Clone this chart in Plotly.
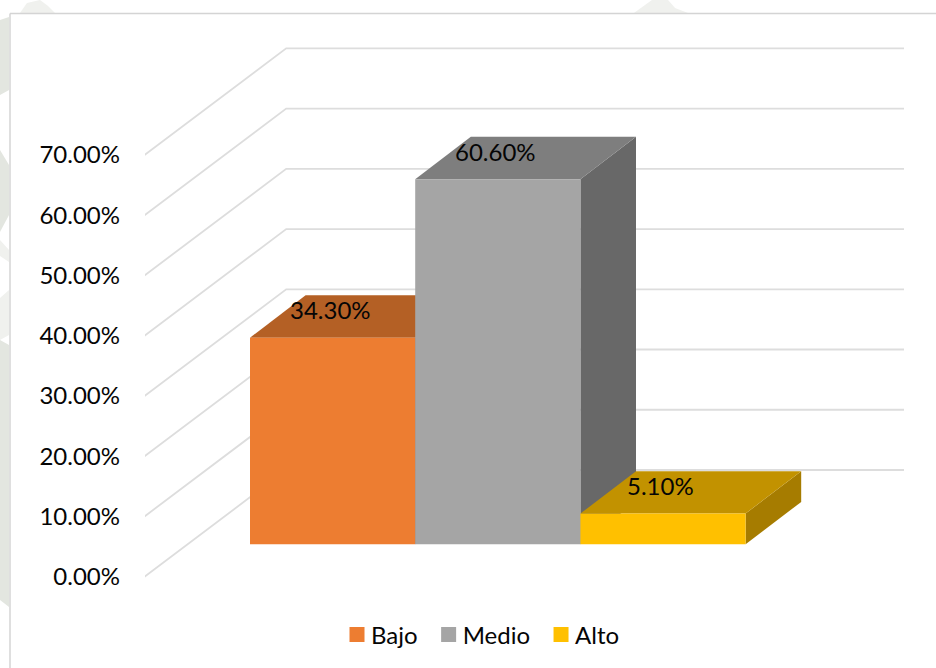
import plotly.graph_objects as go

categories = ["Bajo", "Medio", "Alto"]
values = [34.3, 60.6, 5.1]
labels = ["34.30%", "60.60%", "5.10%"]
front_colors = ["#ED7D31", "#A5A5A5", "#FFC000"]
top_colors = ["#B46025", "#7E7E7E", "#C29200"]
side_colors = ["#8F4C1E", "#686868", "#A67C00"]
tick_values = [0, 10, 20, 30, 40, 50, 60, 70]
tick_labels = ["0.00%", "10.00%", "20.00%", "30.00%", "40.00%", "50.00%", "60.00%", "70.00%"]

W, H = 936, 668
PX_PER_UNIT_Y = 6.024
PX_PER_CAT = 165.2
PLOT_L, PLOT_R, PLOT_T, PLOT_B = 145, 905, 20, 610
ZERO_PY = 576.7
BAR0_PX = 250


def to_x(px):
    return (px - BAR0_PX) / PX_PER_CAT


def paper_x(px):
    return (px - PLOT_L) / (PLOT_R - PLOT_L)


def paper_y(py):
    return (PLOT_B - py) / (PLOT_B - PLOT_T)


def blob(points, color):
    xs = [paper_x(p[0]) for p in points]
    ys = [paper_y(p[1]) for p in points]
    path = "M " + " L ".join(f"{a:.4f} {b:.4f}" for a, b in zip(xs, ys)) + " Z"
    return dict(type="path", xref="paper", yref="paper", layer="below",
                path=path, fillcolor=color, line=dict(width=0))


WALL_DX = 141.7 / PX_PER_CAT
WALL_DY = 106.7 / PX_PER_UNIT_Y
GRID_END = to_x(904)
GRID_START = to_x(144.5)
BAR_DX = 55.6 / PX_PER_CAT
BAR_DY = 42.4 / PX_PER_UNIT_Y
BAR_BASE = (ZERO_PY - 544.3) / PX_PER_UNIT_Y

fig = go.Figure()

for t in tick_values:
    fig.add_trace(go.Scatter(
        x=[GRID_START, GRID_START + WALL_DX, GRID_END],
        y=[t, t + WALL_DY, t + WALL_DY],
        mode="lines", line=dict(color="#DDDDDD", width=1.8),
        showlegend=False, hoverinfo="skip"))

for i, (name, v) in enumerate(zip(categories, values)):
    left, right = i, i + 1
    bottom, top = BAR_BASE, BAR_BASE + v
    fig.add_trace(go.Scatter(
        x=[right, right + BAR_DX, right + BAR_DX, right, right],
        y=[bottom, bottom + BAR_DY, top + BAR_DY, top, bottom],
        mode="lines", line=dict(width=0), fill="toself", fillcolor=side_colors[i],
        showlegend=False, hoverinfo="skip"))
    fig.add_trace(go.Scatter(
        x=[left, left + BAR_DX, right + BAR_DX, right, left],
        y=[top, top + BAR_DY, top + BAR_DY, top, top],
        mode="lines", line=dict(width=0), fill="toself", fillcolor=top_colors[i],
        showlegend=False, hoverinfo="skip"))
    fig.add_trace(go.Scatter(
        x=[left, right, right, left, left],
        y=[bottom, bottom, top, top, bottom],
        mode="lines", line=dict(width=0), fill="toself", fillcolor=front_colors[i],
        showlegend=False, name=name, hoverinfo="x+y"))

for i, name in enumerate(categories):
    fig.add_trace(go.Scatter(
        x=[None], y=[None], mode="markers", name=name,
        marker=dict(symbol="square", size=15, color=front_colors[i])))

label_font = dict(family="Lato, Carlito, sans-serif", size=24, color="#050505")
for i, (v, text) in enumerate(zip(values, labels)):
    fig.add_annotation(
        x=i + BAR_DX + 0.15, y=BAR_BASE + v + BAR_DY * 0.52 + 1.0,
        text=text, showarrow=False, font=label_font, xanchor="center", yanchor="middle")

crest = "#E3E6E0"
crest_light = "#F0F1EE"
shapes = [
    blob([(0, 20), (9, 17), (9, 90), (0, 95)], crest),
    blob([(0, 150), (9, 165), (9, 215), (0, 232)], crest),
    blob([(0, 240), (9, 250), (9, 262), (0, 256)], crest_light),
    blob([(0, 298), (9, 290), (9, 335), (0, 340)], crest_light),
    blob([(0, 340), (9, 345), (9, 607), (0, 600)], crest),
    blob([(20, 13), (27, 3), (40, 0), (48, 6), (55, 13)], crest_light),
    blob([(634, 13), (645, 5), (652, 0), (668, 0), (675, 8), (688, 13)], crest_light),
]
frame = [
    dict(type="line", xref="paper", yref="paper", layer="below",
         x0=paper_x(10), x1=paper_x(W), y0=paper_y(13.5), y1=paper_y(13.5),
         line=dict(color="#D4D4D4", width=1.5)),
    dict(type="line", xref="paper", yref="paper", layer="below",
         x0=paper_x(10), x1=paper_x(10), y0=paper_y(13.5), y1=paper_y(H),
         line=dict(color="#D4D4D4", width=1.5)),
]

fig.update_layout(
    width=W, height=H,
    margin=dict(l=PLOT_L, r=W - PLOT_R, t=PLOT_T, b=H - PLOT_B, autoexpand=False),
    paper_bgcolor="white", plot_bgcolor="rgba(0,0,0,0)",
    xaxis=dict(range=[to_x(PLOT_L), to_x(PLOT_R)], visible=False, fixedrange=True),
    yaxis=dict(
        range=[(ZERO_PY - PLOT_B) / PX_PER_UNIT_Y, (ZERO_PY - PLOT_T) / PX_PER_UNIT_Y],
        tickmode="array", tickvals=tick_values, ticktext=tick_labels,
        showgrid=False, zeroline=False, showline=False, ticks="", ticklabelstandoff=24,
        tickfont=label_font, fixedrange=True),
    legend=dict(orientation="h", x=paper_x(478), xanchor="center", y=-0.004, yanchor="top",
                font=label_font, bgcolor="rgba(0,0,0,0)",
                itemwidth=30, traceorder="normal"),
    shapes=shapes + frame,
    showlegend=True,
)
fig.write_html(
    "out.html",
    config={"displayModeBar": False},
    post_script=(
        "document.body.style.margin='0';"
        "document.documentElement.style.overflow='hidden';"
        "document.body.style.overflow='hidden';"
        "document.querySelectorAll('.legendsymbols').forEach(function(e){"
        "e.setAttribute('transform','translate(6,0)');});"
    ),
)
